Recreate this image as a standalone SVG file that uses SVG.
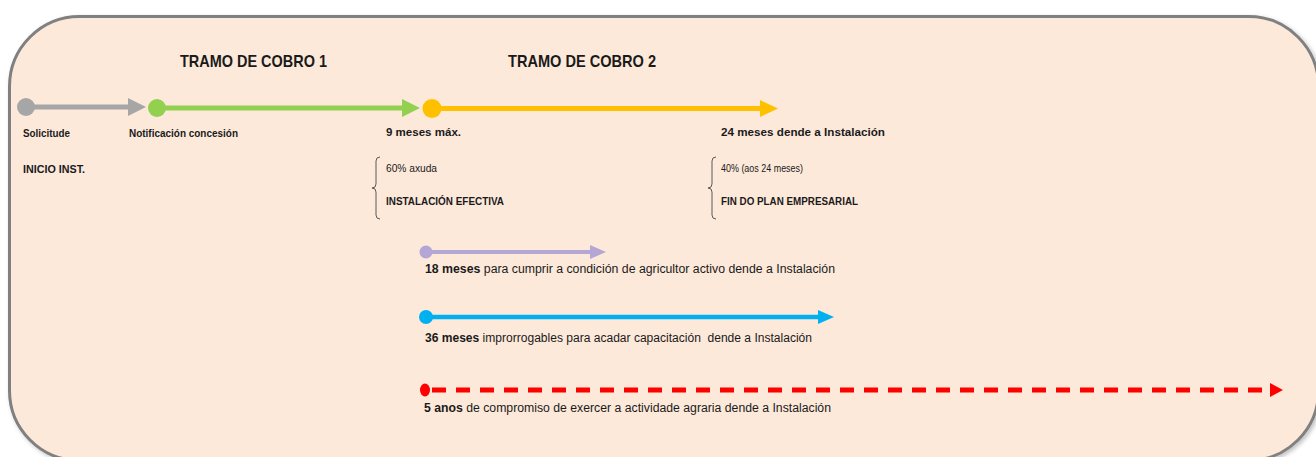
<svg xmlns="http://www.w3.org/2000/svg" width="1316" height="457" viewBox="0 0 1316 457">
<defs>
<style>
text{font-family:"Liberation Sans",Arial,sans-serif;fill:#1a1a1a}
.t{font-size:17px;font-weight:bold}
.s{font-size:10px;font-weight:bold}
.m{font-size:11.5px;font-weight:bold}
.r{font-size:10px}
.rb{font-size:10px;font-weight:bold}
.l{font-size:12.5px}
.b{font-weight:bold}
.brace{fill:none;stroke:#595959;stroke-width:1}
</style>
<filter id="sh" x="-5%" y="-5%" width="110%" height="110%"><feDropShadow dx="2" dy="2" stdDeviation="2" flood-color="#000" flood-opacity="0.25"/></filter>
</defs>
<rect id="bg" x="9.5" y="16.5" width="1309" height="444" rx="70" ry="70" fill="#FDE9DA" stroke="#808080" stroke-width="3" filter="url(#sh)"/>
<g id="connectors">
<g id="c-gray"><line x1="26" y1="107" x2="130" y2="107" stroke="#A6A6A6" stroke-width="5"/><polygon points="128,98 146,107 128,116" fill="#A6A6A6"/></g>
<g id="c-green"><line x1="157" y1="108" x2="404" y2="108" stroke="#92D050" stroke-width="5"/><polygon points="402,99 420,108 402,117" fill="#92D050"/></g>
<g id="c-yellow"><line x1="432" y1="108.5" x2="762" y2="108.5" stroke="#FFC000" stroke-width="5"/><polygon points="760,100 778,108.5 760,117" fill="#FFC000"/></g>
<g id="c-purple"><line x1="426" y1="252" x2="592" y2="252" stroke="#B4A7D6" stroke-width="4"/><polygon points="590,245 606,252 590,259" fill="#B4A7D6"/></g>
<g id="c-blue"><line x1="426" y1="317" x2="820" y2="317" stroke="#00B0F0" stroke-width="4.5"/><polygon points="818,310 834,317 818,324" fill="#00B0F0"/></g>
<g id="c-red"><line x1="432" y1="390" x2="1266" y2="390" stroke="#FF0000" stroke-width="5" stroke-dasharray="14 10"/><polygon points="1270,383 1283,390 1270,397" fill="#FF0000"/></g>
</g>
<g id="n-solicitude"><circle cx="26" cy="107" r="9" fill="#A6A6A6"/><text class="s" x="23" y="137" textLength="47" lengthAdjust="spacingAndGlyphs">Solicitude</text><text class="s" x="23" y="173" textLength="62" lengthAdjust="spacingAndGlyphs">INICIO INST.</text></g>
<g id="n-notificacion"><circle cx="157" cy="108" r="9" fill="#92D050"/><text class="s" x="129" y="137" textLength="109" lengthAdjust="spacingAndGlyphs">Notificación concesión</text></g>
<g id="n-tramo1"><text class="t" x="180" y="67" textLength="147" lengthAdjust="spacingAndGlyphs">TRAMO DE COBRO 1</text></g>
<g id="n-tramo2"><text class="t" x="508" y="67" textLength="148" lengthAdjust="spacingAndGlyphs">TRAMO DE COBRO 2</text></g>
<g id="n-9meses"><circle cx="432" cy="108.5" r="9.5" fill="#FFC000"/><text class="m" x="386" y="136" textLength="75" lengthAdjust="spacingAndGlyphs">9 meses máx.</text>
<path class="brace" d="M380,157 Q376,157 376,161 L376,184 Q376,188 372,188 Q376,188 376,192 L376,215 Q376,219 380,219"/>
<text class="r" x="386" y="172" textLength="51" lengthAdjust="spacingAndGlyphs">60% axuda</text><text class="rb" x="386" y="205" textLength="118" lengthAdjust="spacingAndGlyphs">INSTALACIÓN EFECTIVA</text></g>
<g id="n-24meses"><text class="m" x="721" y="136" textLength="164" lengthAdjust="spacingAndGlyphs">24 meses dende a Instalación</text>
<path class="brace" d="M716,157 Q712,157 712,161 L712,184 Q712,188 708,188 Q712,188 712,192 L712,215 Q712,219 716,219"/>
<text class="r" x="721" y="172" textLength="82" lengthAdjust="spacingAndGlyphs">40% (aos 24 meses)</text><text class="rb" x="721" y="205" textLength="137" lengthAdjust="spacingAndGlyphs">FIN DO PLAN EMPRESARIAL</text></g>
<g id="n-18meses"><circle cx="426" cy="252" r="6.5" fill="#B4A7D6"/><text class="l" x="425" y="273" textLength="410" lengthAdjust="spacingAndGlyphs"><tspan class="b">18 meses</tspan> para cumprir a condición de agricultor activo dende a Instalación</text></g>
<g id="n-36meses"><circle cx="426" cy="317" r="7" fill="#00B0F0"/><text class="l" x="425" y="342" textLength="387" lengthAdjust="spacingAndGlyphs"><tspan class="b">36 meses</tspan> improrrogables para acadar capacitación&#160; dende a Instalación</text></g>
<g id="n-5anos"><ellipse cx="425" cy="390" rx="5" ry="6.5" fill="#FF0000"/><text class="l" x="424" y="412" textLength="407" lengthAdjust="spacingAndGlyphs"><tspan class="b">5 anos</tspan> de compromiso de exercer a actividade agraria dende a Instalación</text></g>
</svg>
